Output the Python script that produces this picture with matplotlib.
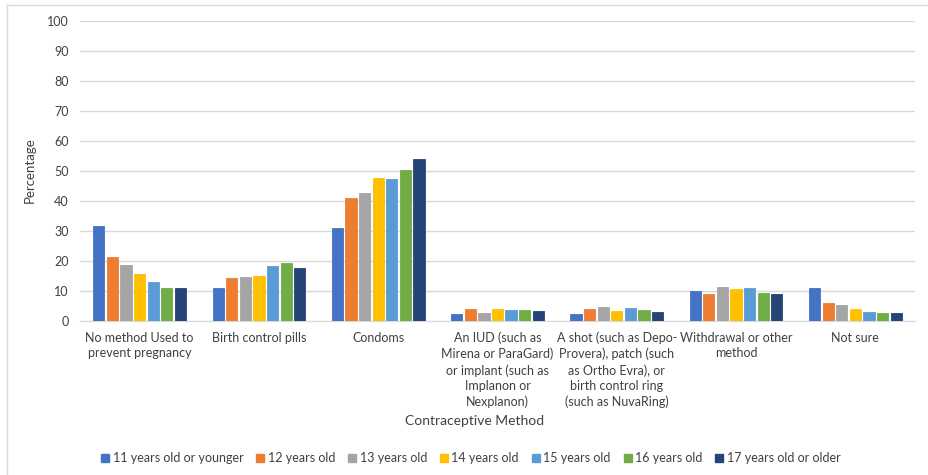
import matplotlib.pyplot as plt
import numpy as np
from matplotlib.lines import Line2D

plt.rcParams['font.family'] = ['Lato', 'DejaVu Sans']

categories = ["No method Used to\nprevent pregnancy", "Birth control pills", "Condoms",
              "An IUD (such as\nMirena or ParaGard)\nor implant (such as\nImplanon or\nNexplanon)",
              "A shot (such as Depo-\nProvera), patch (such\nas Ortho Evra), or\nbirth control ring\n(such as NuvaRing)",
              "Withdrawal or other\nmethod", "Not sure"]
series = ["11 years old or younger", "12 years old", "13 years old", "14 years old",
          "15 years old", "16 years old", "17 years old or older"]
colors = ["#4472C4", "#ED7D31", "#A5A5A5", "#FFC000", "#5B9BD5", "#70AD47", "#264478"]

age11 = [31.6, 10.8, 30.9, 2.3, 2.3, 10.0, 11.0]
age12 = [21.1, 14.3, 40.9, 3.8, 3.8, 9.0, 5.8]
age13 = [18.5, 14.6, 42.5, 2.5, 4.6, 11.3, 5.2]
age14 = [15.6, 14.7, 47.5, 3.8, 3.2, 10.5, 3.7]
age15 = [12.7, 18.3, 47.3, 3.4, 4.2, 10.7, 2.8]
age16 = [10.8, 19.3, 50.2, 3.4, 3.4, 9.3, 2.4]
age17 = [10.8, 17.4, 53.9, 3.3, 2.7, 8.7, 2.4]
values = [age11, age12, age13, age14, age15, age16, age17]

fig = plt.figure(figsize=(9.29, 4.75), dpi=100)
ax = fig.add_axes([80/929, 154.5/475, 835/929, 300/475])

x = np.arange(len(categories))
step = 0.114
width = 0.094
for i, (vals, c) in enumerate(zip(values, colors)):
    ax.bar(x + (i - 3) * step, vals, width, color=c, label=series[i], zorder=3,
           edgecolor=c, linewidth=0.6)

ax.set_xlim(-0.5, len(categories) - 0.5)
ax.set_ylim(0, 100)
ax.set_yticks(range(0, 101, 10))
ax.grid(axis='y', color='#D9D9D9', linewidth=1, zorder=0)
for s in ['top', 'right', 'left']:
    ax.spines[s].set_visible(False)
ax.spines['bottom'].set_color('#D9D9D9')
ax.tick_params(axis='both', length=0, labelsize=9, colors='#404040', pad=8)
ax.set_xticks(x)
ax.set_xticklabels(categories, fontsize=9, linespacing=1.35, va='top')
ax.tick_params(axis='x', pad=8)
ax.set_ylabel("Percentage", fontsize=9.5, color='#404040', labelpad=8)
fig.text(475/929, 1 - 421/475, "Contraceptive Method", ha='center', va='center',
         fontsize=10, color='#404040')

handles = [Line2D([0], [0], marker='s', linestyle='', markersize=6, color=c) for c in colors]
fig.legend(handles, series, loc='center', bbox_to_anchor=(471/929, 1 - 458/475), ncol=7,
           frameon=False, fontsize=9, handlelength=0.6, handletextpad=0.3,
           columnspacing=1.05, labelcolor='#404040')

# chart border (left and top edges)
fig.add_artist(Line2D([7/929, 7/929], [0, 1 - 5/475], transform=fig.transFigure,
                      color='#D9D9D9', linewidth=1))
fig.add_artist(Line2D([7/929, 1], [1 - 5/475, 1 - 5/475], transform=fig.transFigure,
                      color='#D9D9D9', linewidth=1))

fig.savefig("out.png", dpi=100)
